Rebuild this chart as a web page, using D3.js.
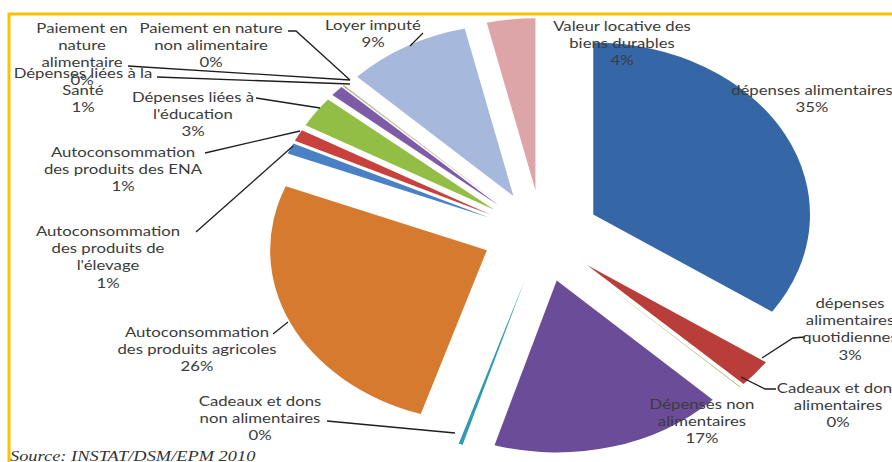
<!DOCTYPE html>
<html lang="fr">
  <head>
    <meta charset="utf-8">
    <script src="https://d3js.org/d3.v7.min.js"></script>
    <style>
      body { margin: 0; background: #fff; }
    </style>
  </head>
  <body>
    <script type="text/javascript">

      // data (percent of total)
      var categories = [
        "dépenses alimentaires",
        "dépenses alimentaires quotidiennes",
        "Cadeaux et dons alimentaires",
        "Dépenses non alimentaires",
        "Cadeaux et dons non alimentaires",
        "Autoconsommation des produits agricoles",
        "Autoconsommation des produits de l'élevage",
        "Autoconsommation des produits des ENA",
        "Dépenses liées à l'éducation",
        "Dépenses liées à la Santé",
        "Paiement en nature alimentaire",
        "Paiement en nature non alimentaire",
        "Loyer imputé",
        "Valeur locative des biens durables"
      ];
      var values = [34.5, 2.6, 0.05, 17.4, 0.3, 26.1, 1.0, 1.1, 2.9, 1.0, 0.05, 0.05, 9.2, 3.6];

      // wrapped label text (same order as categories)
      var labelLines = [
        ["dépenses alimentaires"],
        ["dépenses", "alimentaires", "quotidiennes"],
        ["Cadeaux et dons", "alimentaires"],
        ["Dépenses non", "alimentaires"],
        ["Cadeaux et dons", "non alimentaires"],
        ["Autoconsommation", "des produits agricoles"],
        ["Autoconsommation", "des produits de", "l'élevage"],
        ["Autoconsommation", "des produits des ENA"],
        ["Dépenses liées à", "l'éducation"],
        ["Dépenses liées à la", "Santé"],
        ["Paiement en", "nature", "alimentaire"],
        ["Paiement en nature", "non alimentaire"],
        ["Loyer imputé"],
        ["Valeur locative des", "biens durables"]
      ];

      var colors = ["#3566a6", "#b93e3a", "#8cb04a", "#6b4c98", "#2f9bb3", "#d67a2f",
                    "#4a80c6", "#c8413c", "#93be45", "#7d5ba6", "#4bacc6", "#f79646",
                    "#a6b8db", "#dda5a7"];

      // layout (picture pixels): label centre x, first line y, leader polyline
      var labelPos = [
        {x: 812, y: 90},
        {x: 850, y: 303, leader: [[805, 337], [793, 338], [762, 358]]},
        {x: 838, y: 388, leader: [[776, 389], [765, 389], [741, 377]]},
        {x: 702, y: 404},
        {x: 260, y: 401, leader: [[327, 421], [455, 433]]},
        {x: 197, y: 332, leader: [[273, 334], [288, 322]]},
        {x: 108, y: 231, leader: [[196, 232], [293, 146]]},
        {x: 123, y: 152, leader: [[205, 153], [300, 131]]},
        {x: 193, y: 97, leader: [[256, 98], [320, 108]]},
        {x: 83, y: 73, leader: [[157, 77], [350, 84]]},
        {x: 82, y: 28, leader: [[128, 66], [350, 80]]},
        {x: 211, y: 28, leader: [[288, 31], [296, 31], [350, 80]]},
        {x: 373, y: 25, leader: [[423, 33], [410, 46]]},
        {x: 622, y: 26}
      ];

      var svgWidth = 892;
      var svgHeight = 462;
      var sx = 1.26;          // the original picture is stretched sideways
      var cx = 542, cy = 236;
      var radius = 172;
      var explode = 46;
      var lineH = 17.3;

      var svg = d3.select("body")
        .append("svg")
        .attr("width", svgWidth)
        .attr("height", svgHeight);

      svg.append("rect")
        .attr("width", svgWidth)
        .attr("height", svgHeight)
        .attr("fill", "#fff");

      var pie = d3.pie().sort(null).value(function(d) { return d; });
      var arcs = pie(values);
      var arc = d3.arc().innerRadius(0).outerRadius(radius);

      var pieG = svg.append("g")
        .attr("transform", "translate(" + cx + "," + cy + ") scale(" + sx + ",1)");

      pieG.selectAll("path")
        .data(arcs)
        .enter()
        .append("path")
        .attr("d", arc)
        .attr("fill", function(d, i) { return colors[i]; })
        .attr("transform", function(d, i) {
          var a = (d.startAngle + d.endAngle) / 2;
          // the agricultural slice sits lower than its bisector in the original
          if (i === 5) a = 252 * Math.PI / 180;
          return "translate(" + (explode * Math.sin(a)) + "," + (-explode * Math.cos(a)) + ")";
        });

      // leader lines
      var line = d3.line();
      svg.selectAll("path.leader")
        .data(labelPos.filter(function(p) { return p.leader; }))
        .enter()
        .append("path")
        .attr("class", "leader")
        .attr("d", function(p) { return line(p.leader); })
        .attr("fill", "none")
        .attr("stroke", "#1e1e1e")
        .attr("stroke-width", 1.3);

      // labels
      var textG = svg.append("g")
        .attr("transform", "scale(" + sx + ",1)");

      labelPos.forEach(function(p, i) {
        var lines = labelLines[i].concat([Math.round(values[i]) + "%"]);
        var t = textG.append("text")
          .attr("text-anchor", "middle")
          .attr("font-family", "Lato, 'Open Sans', sans-serif")
          .attr("font-size", 13.3)
          .attr("fill", "#3b3b3b");
        lines.forEach(function(s, k) {
          t.append("tspan")
            .attr("x", p.x / sx)
            .attr("y", p.y + k * lineH)
            .attr("dy", "0.35em")
            .text(s);
        });
      });

      textG.append("text")
        .attr("x", 10 / sx)
        .attr("y", 461)
        .attr("font-family", "'Liberation Serif', 'DejaVu Serif', serif")
        .attr("font-style", "italic")
        .attr("font-size", 14.6)
        .attr("fill", "#333")
        .text("Source: INSTAT/DSM/EPM 2010");

      // yellow frame
      svg.append("path")
        .attr("d", "M9," + svgHeight + "V14H" + svgWidth)
        .attr("fill", "none")
        .attr("stroke", "#ffc000")
        .attr("stroke-width", 3);

    </script>
  </body>
</html>
